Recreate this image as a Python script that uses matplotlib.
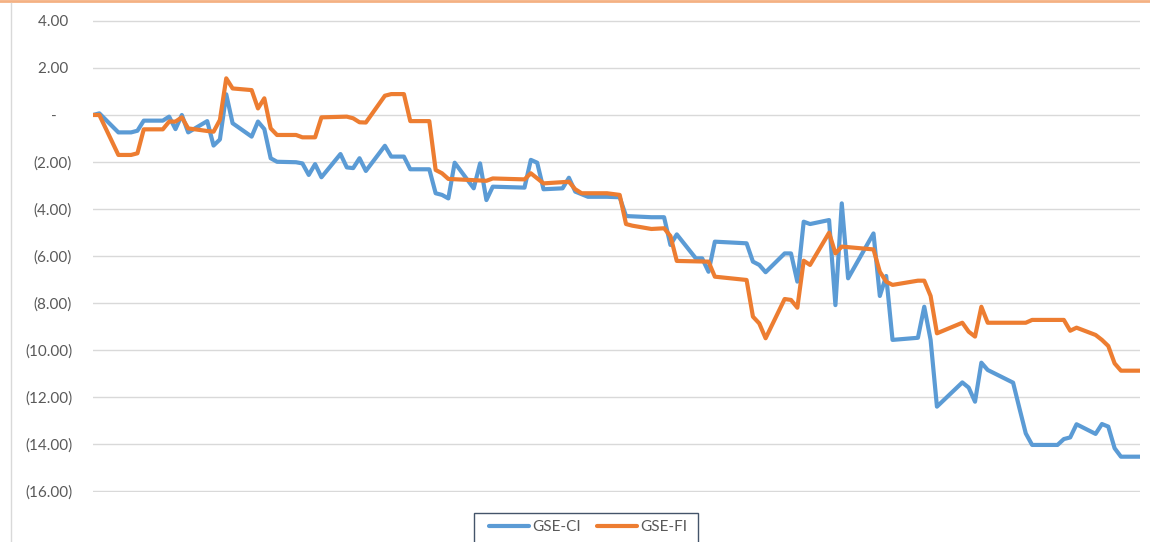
import matplotlib
matplotlib.use("Agg")
import matplotlib.pyplot as plt
from matplotlib.lines import Line2D
from matplotlib.patches import Rectangle

# weekly index / cumulative return (%)
ci_week = [0, 1, 4, 6, 7, 8, 11, 12, 13, 14,
           15, 18, 19, 20, 21, 22, 25, 26, 27, 28,
           29, 32, 33, 34, 35, 36, 39, 40, 41, 42,
           43, 46, 47, 49, 50, 53, 54, 55, 56, 57,
           60, 61, 62, 63, 68, 69, 70, 71, 74, 75,
           76, 78, 81, 83, 84, 88, 90, 91, 92, 95,
           96, 97, 98, 103, 104, 105, 106, 109, 110, 111,
           112, 113, 116, 117, 118, 119, 123, 124, 125, 126,
           130, 131, 132, 133, 137, 138, 139, 140, 141, 145,
           146, 147, 148, 152, 153, 154, 155, 158, 159, 160,
           161, 162, 165]
ci_vals = [0.00, 0.07, -0.74, -0.74, -0.67, -0.24, -0.24, -0.07, -0.60, 0.00,
           -0.74, -0.26, -1.30, -1.04, 0.88, -0.35, -0.92, -0.28, -0.60, -1.84,
           -1.99, -2.01, -2.06, -2.55, -2.09, -2.65, -1.66, -2.23, -2.26, -1.84,
           -2.38, -1.31, -1.77, -1.77, -2.31, -2.31, -3.33, -3.40, -3.55, -2.03,
           -3.12, -2.06, -3.62, -3.05, -3.09, -1.91, -2.03, -3.16, -3.12, -2.67,
           -3.26, -3.48, -3.48, -3.50, -4.30, -4.35, -4.35, -5.53, -5.08, -6.10,
           -6.10, -6.67, -5.39, -5.46, -6.24, -6.38, -6.69, -5.89, -5.89, -7.09,
           -4.54, -4.64, -4.47, -8.09, -3.76, -6.95, -5.04, -7.70, -6.85, -9.57,
           -9.48, -8.16, -9.57, -12.41, -11.38, -11.60, -12.20, -10.54, -10.85, -11.39,
           -12.48, -13.55, -14.04, -14.04, -13.79, -13.72, -13.16, -13.57, -13.15, -13.26,
           -14.18, -14.54, -14.54]

fi_week = [0, 1, 4, 6, 7, 8, 11, 12, 13, 14,
           15, 18, 19, 20, 21, 22, 25, 26, 27, 28,
           29, 32, 33, 35, 36, 40, 41, 42, 43, 46,
           47, 49, 50, 53, 54, 55, 56, 62, 63, 68,
           69, 71, 75, 76, 77, 81, 83, 84, 85, 88,
           90, 91, 92, 97, 98, 103, 104, 105, 106, 109,
           110, 111, 112, 113, 116, 117, 118, 123, 124, 125,
           126, 130, 131, 132, 133, 137, 138, 139, 140, 141,
           147, 148, 153, 154, 155, 158, 159, 160, 161, 162,
           165]
fi_vals = [0.00, 0.00, -1.70, -1.70, -1.63, -0.61, -0.61, -0.28, -0.28, -0.10,
           -0.57, -0.68, -0.71, -0.21, 1.56, 1.13, 1.06, 0.28, 0.71, -0.57,
           -0.85, -0.85, -0.95, -0.95, -0.10, -0.07, -0.14, -0.31, -0.32, 0.82,
           0.89, 0.89, -0.26, -0.26, -2.34, -2.48, -2.72, -2.80, -2.70, -2.74,
           -2.48, -2.91, -2.84, -3.16, -3.33, -3.33, -3.40, -4.64, -4.71, -4.85,
           -4.82, -5.15, -6.21, -6.24, -6.88, -7.02, -8.58, -8.87, -9.50, -7.83,
           -7.87, -8.20, -6.20, -6.38, -5.01, -5.89, -5.60, -5.72, -6.67, -7.09,
           -7.23, -7.05, -7.05, -7.70, -9.29, -8.84, -9.22, -9.43, -8.16, -8.84,
           -8.84, -8.72, -8.72, -9.18, -9.05, -9.36, -9.57, -9.83, -10.57, -10.88,
           -10.88]

y_ticks = [4, 2, 0, -2, -4, -6, -8, -10, -12, -14, -16]


def acct(v):
    # Excel accounting style labels
    if v == 0:
        return "-    "
    if v < 0:
        return "(%.2f)" % abs(v)
    return "%.2f " % v


plt.rcParams['font.family'] = ['Lato', 'DejaVu Sans']

W, H = 1150, 542
fig = plt.figure(figsize=(W / 100, H / 100), dpi=100)
# plot area 4 .. -16 spans y=21..491 px, padded by 1 px so edge gridlines aren't clipped
ax = fig.add_axes([93 / W, 1 - 492 / H, (1140 - 93) / W, 472 / H])

ax.plot(ci_week, ci_vals, color='#5B9BD5', lw=3, label='GSE-CI',
        solid_joinstyle='round', solid_capstyle='round')
ax.plot(fi_week, fi_vals, color='#ED7D31', lw=3, label='GSE-FI',
        solid_joinstyle='round', solid_capstyle='round')

pad = 1 / 23.5
ax.set_xlim(0, 165)
ax.set_ylim(-16 - pad, 4 + pad)
ax.set_yticks(y_ticks)
ax.set_yticklabels([acct(v) for v in y_ticks])
ax.set_xticks([])
ax.tick_params(axis='y', length=0, pad=15, labelsize=11, labelcolor='#595959')
ax.grid(axis='y', color='#D9D9D9', lw=1)
ax.set_axisbelow(True)
for s in ax.spines.values():
    s.set_visible(False)

# legend box (cut by the bottom edge in the original)
fig.add_artist(Rectangle((473.5 / W, -10 / H), 224 / W, (H + 10 - 512.5) / H,
                         transform=fig.transFigure, facecolor='white',
                         edgecolor='#44546A', lw=1))
fig.legend(loc='center', bbox_to_anchor=(588 / W, 1 - 527 / H),
           ncol=2, frameon=False, fontsize=11,
           handlelength=2.6, handletextpad=0.2, columnspacing=1.1,
           borderpad=0.0, borderaxespad=0.0, labelcolor='#595959')

# chart frame bits visible in the crop
fig.add_artist(Line2D([0, 1], [1 - 0.8 / H, 1 - 0.8 / H], color='#F4B183', lw=2))
fig.add_artist(Line2D([10.5 / W, 10.5 / W], [0, 1 - 3 / H], color='#D9D9D9', lw=1))

fig.savefig('out.png', dpi=100, facecolor='white')
